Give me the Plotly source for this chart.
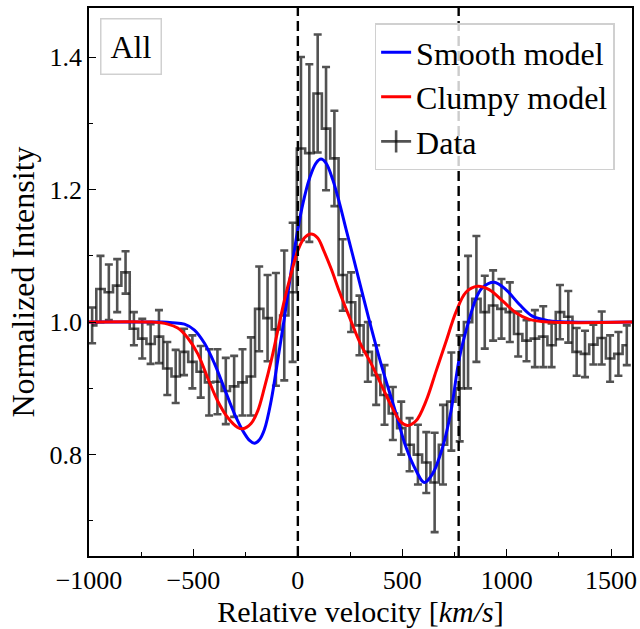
import plotly.graph_objects as go

# ---- Data ----
velocity = [-985, -945, -905, -865, -825, -785, -745, -705, -665, -625,
            -585, -545, -505, -465, -425, -385, -345, -305, -265, -225,
            -185, -145, -105, -65, -25, 15, 55, 95, 135, 175,
            215, 255, 295, 335, 375, 415, 455, 495, 535, 575,
            615, 655, 695, 735, 775, 815, 855, 895, 935, 975,
            1015, 1055, 1095, 1135, 1175, 1215, 1255, 1295, 1335, 1375,
            1415, 1455, 1495, 1535, 1575]
intensity = [0.995, 1.050, 1.045, 1.055, 1.075, 0.990, 0.975, 0.967, 0.978, 0.930,
             0.918, 0.955, 0.940, 0.925, 0.909, 0.910, 0.896, 0.903, 0.909, 0.918,
             1.020, 1.006, 0.989, 1.010, 1.045, 1.262, 1.255, 1.345, 1.292, 1.247,
             1.071, 1.030, 0.995, 0.955, 0.920, 0.890, 0.862, 0.840, 0.815, 0.800,
             0.788, 0.758, 0.815, 0.880, 0.900, 1.000, 1.035, 1.015, 1.025, 1.020,
             1.015, 0.982, 0.972, 0.975, 0.978, 0.965, 1.015, 1.008, 0.955, 0.952,
             0.966, 0.976, 0.945, 0.952, 0.965]
intensity_err = [0.027, 0.050, 0.042, 0.040, 0.032, 0.025, 0.030, 0.030, 0.040, 0.040,
                 0.040, 0.035, 0.040, 0.039, 0.050, 0.049, 0.050, 0.046, 0.050, 0.059,
                 0.064, 0.065, 0.085, 0.098, 0.105, 0.138, 0.134, 0.089, 0.093, 0.072,
                 0.054, 0.045, 0.045, 0.045, 0.045, 0.045, 0.040, 0.040, 0.040, 0.045,
                 0.046, 0.075, 0.060, 0.074, 0.080, 0.100, 0.095, 0.055, 0.053, 0.045,
                 0.045, 0.034, 0.031, 0.043, 0.046, 0.033, 0.041, 0.039, 0.036, 0.035,
                 0.030, 0.040, 0.035, 0.033, 0.030]

smooth_v = [-1000, -800, -650, -600, -543, -495, -447, -400, -352, -304, -256, -230,
            -208, -185, -160, -128, -97, -65, -33, 0, 25, 55, 87, 111, 135, 167,
            199, 231, 262, 294, 340, 400, 470, 518, 566, 605, 645, 693, 733, 773,
            815, 855, 884, 940, 996, 1060, 1123, 1203, 1300, 1600]
smooth_i = [1.0, 1.0, 1.0, 0.999, 0.997, 0.988, 0.968, 0.938, 0.900, 0.862, 0.832, 0.821,
            0.817, 0.822, 0.838, 0.881, 0.941, 1.005, 1.075, 1.140, 1.180, 1.216, 1.240, 1.246, 1.240, 1.215,
            1.180, 1.140, 1.102, 1.062, 1.005, 0.935, 0.862, 0.811, 0.776, 0.758, 0.771, 0.811, 0.865, 0.945,
            0.998, 1.037, 1.052, 1.060, 1.049, 1.027, 1.009, 1.002, 1.0, 1.0]

clumpy_v = [-1000, -700, -623, -575, -527, -479, -432, -384, -336, -288, -264, -224,
            -192, -160, -128, -97, -65, -33, 0, 31, 63, 95, 125, 160, 200, 250,
            300, 350, 400, 450, 494, 526, 566, 614, 662, 710, 757, 805, 860, 916,
            980, 1044, 1108, 1200, 1600]
clumpy_i = [1.0, 1.0, 0.997, 0.991, 0.976, 0.952, 0.916, 0.881, 0.856, 0.841, 0.839, 0.847,
            0.866, 0.901, 0.941, 0.986, 1.032, 1.072, 1.108, 1.127, 1.133, 1.127, 1.107, 1.080, 1.045, 1.005,
            0.967, 0.938, 0.905, 0.872, 0.849, 0.844, 0.851, 0.881, 0.926, 0.971, 1.015, 1.045, 1.054, 1.049,
            1.032, 1.014, 1.004, 1.0, 1.0]

ref_lines = [0, 770]
x_range = [-1000, 1600]
y_range = [0.647, 1.474]

FONT = "Liberation Serif"
data_color = "rgba(0,0,0,0.68)"
TICK_SIZE = 26
LABEL_SIZE = 32
XLABEL_SIZE = 30

fig = go.Figure()

fig.add_trace(go.Scatter(
    x=velocity, y=intensity, mode="lines", name="Data", showlegend=False,
    line=dict(color=data_color, width=2.6, shape="hvh"),
    error_y=dict(type="data", array=intensity_err, visible=True,
                 color=data_color, thickness=2.6, width=4),
))
fig.add_trace(go.Scatter(
    x=smooth_v, y=smooth_i, mode="lines", name="Smooth model",
    line=dict(color="#0000ff", width=3, shape="spline", smoothing=1.0),
    legendrank=1,
))
fig.add_trace(go.Scatter(
    x=clumpy_v, y=clumpy_i, mode="lines", name="Clumpy model",
    line=dict(color="#ff0000", width=3, shape="spline", smoothing=1.0),
    legendrank=2,
))
# legend entry for the data (errorbar-like symbol)
fig.add_trace(go.Scatter(
    x=[None], y=[None], mode="lines+markers", name="Data",
    line=dict(color=data_color, width=2.6),
    marker=dict(symbol="line-ns-open", size=22, color=data_color,
                line=dict(width=2.6, color=data_color)),
    legendrank=3,
))

for xv in ref_lines:
    fig.add_shape(type="line", x0=xv, x1=xv, xref="x", y0=0, y1=1, yref="paper",
                  line=dict(color="black", width=2.4, dash="10px,5px"), layer="above")

fig.add_annotation(
    text="All", xref="paper", yref="paper", x=0.02, y=0.982,
    xanchor="left", yanchor="top", showarrow=False,
    font=dict(family=FONT, size=LABEL_SIZE, color="black"),
    bordercolor="#d0d0d0", borderwidth=1.5, borderpad=9, bgcolor="white",
)

fig.update_layout(
    width=640, height=629,
    margin=dict(l=89, r=8, t=8, b=73),
    paper_bgcolor="white", plot_bgcolor="white",
    font=dict(family=FONT, size=TICK_SIZE, color="black"),
    showlegend=True,
    legend=dict(
        x=0.968, y=0.972, xanchor="right", yanchor="top",
        bgcolor="rgba(255,255,255,0.8)", bordercolor="#d0d0d0", borderwidth=1.5,
        font=dict(family=FONT, size=LABEL_SIZE, color="black"),
        itemwidth=30, tracegroupgap=0,
    ),
    xaxis=dict(
        range=x_range, tick0=-1000, dtick=500,
        showgrid=False, zeroline=False,
        showline=True, linecolor="black", linewidth=1.5, mirror=True,
        ticks="inside", ticklen=7, tickwidth=1.3, tickcolor="black",
        minor=dict(dtick=250, ticks="inside", ticklen=4, tickwidth=1, tickcolor="black"),
        tickfont=dict(family=FONT, size=TICK_SIZE),
        automargin=False,
        title=dict(text="Relative velocity [<i>km/s</i>]", standoff=3,
                   font=dict(family=FONT, size=XLABEL_SIZE)),
    ),
    yaxis=dict(
        range=y_range, tick0=0.8, dtick=0.2, tickformat=".1f",
        showgrid=False, zeroline=False,
        showline=True, linecolor="black", linewidth=1.5, mirror=True,
        ticks="inside", ticklen=7, tickwidth=1.3, tickcolor="black",
        minor=dict(dtick=0.1, ticks="inside", ticklen=4, tickwidth=1, tickcolor="black"),
        tickfont=dict(family=FONT, size=TICK_SIZE),
        automargin=False,
        title=dict(text="Normalized Intensity", standoff=5,
                   font=dict(family=FONT, size=LABEL_SIZE)),
    ),
)

fig.write_html("out.html")
